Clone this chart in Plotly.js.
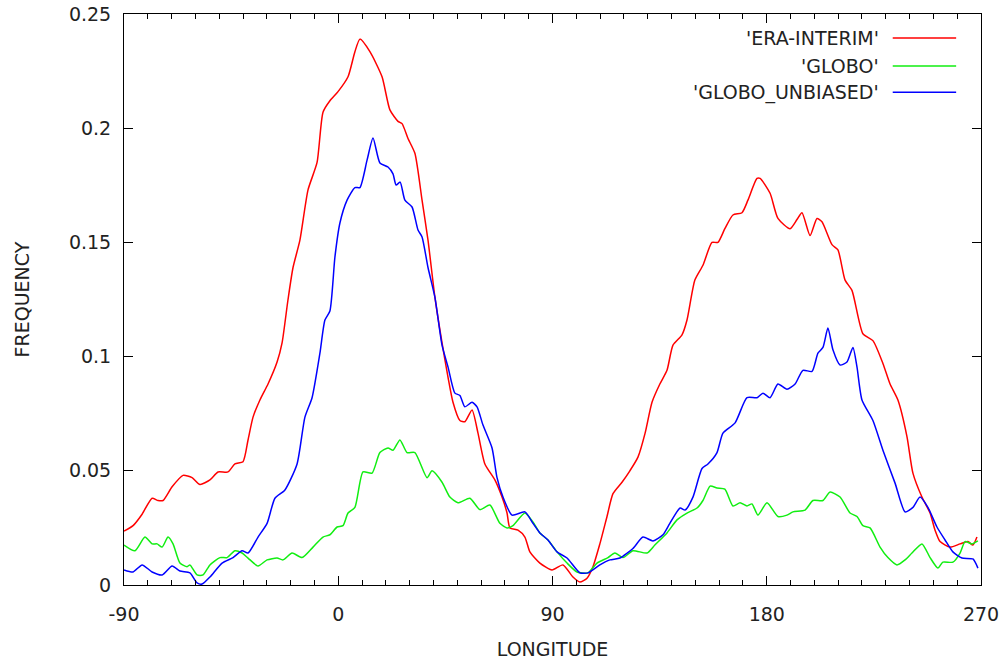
<!DOCTYPE html>
<html>
<head>
<meta charset="utf-8">
<script src="https://cdn.plot.ly/plotly-3.0.1.min.js"></script>
<style>html,body{margin:0;padding:0;background:#fff;}#chart{width:1004px;height:663px;}</style>
</head>
<body>
<div id="chart"></div>
<script>
var seriesNames = ["'ERA-INTERIM'", "'GLOBO'", "'GLOBO_UNBIASED'"];
var seriesColors = ["#ff0000", "#11ee11", "#0000ff"];

var eraLon = [-90,-86.2,-82.4,-78.2,-75.7,-73.6,-69.8,-65.2,-61.4,-58.1,-53.9,-50.5,-46.3,-43.4,-40.0,-37.9,-35.8,-32.9,-29.5,-25.7,-23.6,-21.1,-19.0,-16.1,-12.7,-8.9,-6.4,-3.5,-0.1,4.1,7.0,9.1,13.3,18.4,21.7,25.1,26.8,29.3,32.2,35.2,37.7,40.6,43.6,46.1,48.2,51.1,53.2,56.2,58.7,61.6,65.8,68.8,70.9,72.1,75.5,78.4,80.5,84.7,89.8,94.4,98.6,101.5,104.5,107.0,109.9,112.9,115.4,119.2,122.5,125.9,128.9,131.8,135.1,138.1,140.6,144.4,146.5,149.8,153.2,157.0,159.5,162.4,165.8,169.6,172.1,175.9,177.2,181.4,184.7,189.8,192.7,194.8,198.2,201.1,203.2,207.4,209.9,212.9,215.8,220.4,224.6,228.8,231.8,235.1,238.9,241.4,245.2,248.6,250.7,252.8,257.0,261.2,264.5,266.6,268.3];
var eraVal = [0.0236,0.026,0.031,0.038,0.037,0.037,0.043,0.048,0.047,0.044,0.046,0.0495,0.0495,0.053,0.054,0.0635,0.0735,0.081,0.088,0.0976,0.106,0.125,0.139,0.151,0.173,0.185,0.207,0.212,0.216,0.2225,0.2335,0.239,0.2335,0.2225,0.208,0.203,0.202,0.1955,0.189,0.1685,0.151,0.126,0.106,0.091,0.080,0.072,0.0715,0.0766,0.0665,0.053,0.046,0.0385,0.0315,0.025,0.024,0.021,0.0145,0.0096,0.0066,0.0088,0.0035,0.0013,0.003,0.008,0.018,0.030,0.040,0.045,0.050,0.056,0.0665,0.080,0.088,0.094,0.105,0.1095,0.116,0.1335,0.140,0.150,0.150,0.156,0.162,0.163,0.1685,0.178,0.178,0.1715,0.1605,0.156,0.160,0.163,0.153,0.1605,0.159,0.149,0.1467,0.1335,0.129,0.110,0.107,0.097,0.088,0.081,0.065,0.049,0.0385,0.0315,0.024,0.019,0.0166,0.018,0.019,0.0175,0.021];

var globoLon = [-90,-85.4,-81.2,-78.2,-76.1,-74.0,-71.5,-69.4,-66.5,-63.5,-62.3,-59.3,-56.8,-53.9,-49.7,-46.7,-43.4,-40.4,-37.9,-33.7,-29.9,-25.7,-23.2,-19.4,-15.2,-10.6,-6.4,-3.5,-0.5,2.0,4.1,7.0,10.4,14.2,17.5,20.9,23.0,25.9,28.9,32.2,37.3,39.4,43.6,46.9,50.3,55.3,59.5,63.7,67.9,70.9,73.4,78.4,81.8,84.7,88.1,91.9,96.1,100.3,104.9,108.7,113.3,116.2,119.6,123.8,129.7,133.0,138.1,142.3,146.5,150.7,153.2,156.2,159.1,162.4,165.8,168.8,171.7,173.8,176.3,180.1,184.7,188.5,191.0,196.1,199.4,203.6,206.6,210.8,215.0,217.9,220.4,223.4,227.6,230.9,234.7,238.1,241.0,245.2,248.6,251.9,254.0,258.2,261.2,263.3,266.2,268.7];
var globoVal = [0.0175,0.015,0.021,0.018,0.018,0.0166,0.021,0.018,0.0096,0.008,0.0088,0.0044,0.0044,0.0088,0.012,0.012,0.015,0.014,0.0118,0.0083,0.011,0.0118,0.011,0.014,0.012,0.0166,0.021,0.022,0.0254,0.026,0.0315,0.034,0.0495,0.049,0.058,0.060,0.059,0.0635,0.058,0.058,0.047,0.050,0.045,0.0385,0.036,0.038,0.033,0.035,0.027,0.025,0.026,0.0315,0.0276,0.0228,0.0197,0.0145,0.0096,0.0057,0.0053,0.0096,0.012,0.014,0.012,0.015,0.014,0.0175,0.0228,0.0285,0.0315,0.0337,0.037,0.0433,0.0425,0.042,0.0346,0.036,0.0346,0.0355,0.0306,0.036,0.030,0.0306,0.032,0.0328,0.037,0.037,0.0407,0.0385,0.0315,0.030,0.026,0.025,0.0166,0.012,0.0088,0.011,0.014,0.018,0.012,0.0074,0.010,0.010,0.014,0.019,0.018,0.0193];

var unbLon = [-90,-86.2,-82.4,-78.2,-74.0,-69.8,-66.5,-62.3,-59.3,-57.2,-53.9,-48.8,-44.2,-40.4,-37.9,-33.7,-29.9,-26.6,-22.4,-17.3,-14.0,-11.0,-7.7,-5.6,-3.5,-1.4,0.7,3.7,7.0,9.1,12.1,14.6,17.5,20.9,23.0,24.3,26.0,28.0,31.0,33.5,35.2,37.7,40.6,43.6,46.1,49.0,51.1,53.2,56.2,58.3,60.8,64.6,66.7,69.2,73.0,78.4,81.8,84.7,88.1,91.9,96.1,101.5,104.9,109.9,114.1,118.3,123.8,128.0,132.2,136.4,139.3,143.6,145.7,149.0,152.8,155.3,159.1,161.6,166.7,171.7,175.9,178.4,181.4,184.7,188.5,191.9,195.2,199.0,201.5,203.6,205.7,207.8,210.8,213.7,216.2,217.9,220.0,224.6,228.8,233.9,238.1,241.4,244.4,247.7,251.5,254.9,258.2,262.0,266.6,268.7];
var unbVal = [0.0066,0.0057,0.0088,0.0057,0.0044,0.0083,0.0061,0.0053,0.0009,0.0004,0.0035,0.0096,0.012,0.015,0.014,0.021,0.027,0.038,0.0416,0.053,0.0735,0.082,0.1015,0.116,0.120,0.1436,0.1585,0.1685,0.174,0.174,0.186,0.1957,0.1848,0.183,0.180,0.1751,0.1764,0.1685,0.1655,0.1554,0.1524,0.139,0.126,0.105,0.0955,0.084,0.083,0.078,0.080,0.078,0.070,0.060,0.047,0.0385,0.0306,0.032,0.027,0.0228,0.0197,0.0145,0.0118,0.0053,0.0053,0.0088,0.011,0.0118,0.016,0.021,0.0193,0.022,0.027,0.0337,0.0328,0.0385,0.051,0.053,0.058,0.0665,0.071,0.082,0.082,0.084,0.082,0.088,0.0857,0.088,0.094,0.0935,0.1015,0.104,0.1125,0.103,0.0963,0.0976,0.104,0.0955,0.081,0.072,0.059,0.0446,0.032,0.034,0.0385,0.034,0.0254,0.0197,0.0145,0.0118,0.0114,0.0074];

var xTicks = [-90, 0, 90, 180, 270];
var yTicks = [0, 0.05, 0.1, 0.15, 0.2, 0.25];
var yTickText = ["0", "0.05", "0.1", "0.15", "0.2", "0.25"];

var xs = [eraLon, globoLon, unbLon];
var ys = [eraVal, globoVal, unbVal];
var traces = [];
for (var i = 0; i < 3; i++) {
  traces.push({x: xs[i], y: ys[i], type: 'scatter', mode: 'lines', name: seriesNames[i],
    line: {color: seriesColors[i], width: 1.5, shape: 'spline', smoothing: 0.6}, showlegend: false, hoverinfo: 'none'});
}
// empty trace to show the top axis with minor ticks
traces.push({x: [], y: [], xaxis: 'x2', yaxis: 'y', type: 'scatter', mode: 'lines', showlegend: false, hoverinfo: 'none'});

var font = {family: 'DejaVu Sans, sans-serif', size: 19, color: '#222'};
var annotations = [], shapes = [];
var legY = [0.958, 0.909, 0.863];
for (var j = 0; j < 3; j++) {
  annotations.push({xref: 'paper', yref: 'paper', x: 0.883, y: legY[j], xanchor: 'right', yanchor: 'middle',
    text: seriesNames[j], showarrow: false, font: font});
  shapes.push({type: 'line', xref: 'paper', yref: 'paper', x0: 0.897, x1: 0.971, y0: legY[j], y1: legY[j],
    line: {color: seriesColors[j], width: 1.5}});
}

var layout = {
  width: 1004, height: 663,
  margin: {l: 124, r: 23, t: 14, b: 78},
  paper_bgcolor: '#fff', plot_bgcolor: '#fff',
  font: font,
  showlegend: false,
  xaxis: {range: [-90, 270], tickvals: xTicks, ticktext: xTicks.map(String), ticks: 'inside', ticklen: 9,
    tickcolor: '#000', tickwidth: 1, showline: true, linecolor: '#000', linewidth: 1, mirror: true,
    showgrid: false, zeroline: false, ticklabelstandoff: 12,
    minor: {dtick: 10, tick0: -90, ticks: 'inside', ticklen: 5, tickcolor: '#000', tickwidth: 1, showgrid: false},
    title: {text: 'LONGITUDE', font: font, standoff: 18}, tickfont: font},
  xaxis2: {range: [-90, 270], overlaying: 'x', side: 'top', tickvals: xTicks, ticks: 'inside', ticklen: 9,
    tickcolor: '#000', tickwidth: 1, showticklabels: false, showgrid: false, zeroline: false, showline: false,
    minor: {dtick: 10, tick0: -90, ticks: 'inside', ticklen: 5, tickcolor: '#000', tickwidth: 1, showgrid: false}},
  yaxis: {range: [0, 0.25], tickvals: yTicks, ticktext: yTickText, ticks: 'inside', ticklen: 9,
    tickcolor: '#000', tickwidth: 1, showline: true, linecolor: '#000', linewidth: 1, mirror: 'ticks',
    showgrid: false, zeroline: false, ticklabelstandoff: 8,
    title: {text: 'FREQUENCY', font: font, standoff: 34}, tickfont: font},
  annotations: annotations,
  shapes: shapes
};

Plotly.newPlot('chart', traces, layout, {displayModeBar: false, staticPlot: true});
</script>
</body>
</html>
